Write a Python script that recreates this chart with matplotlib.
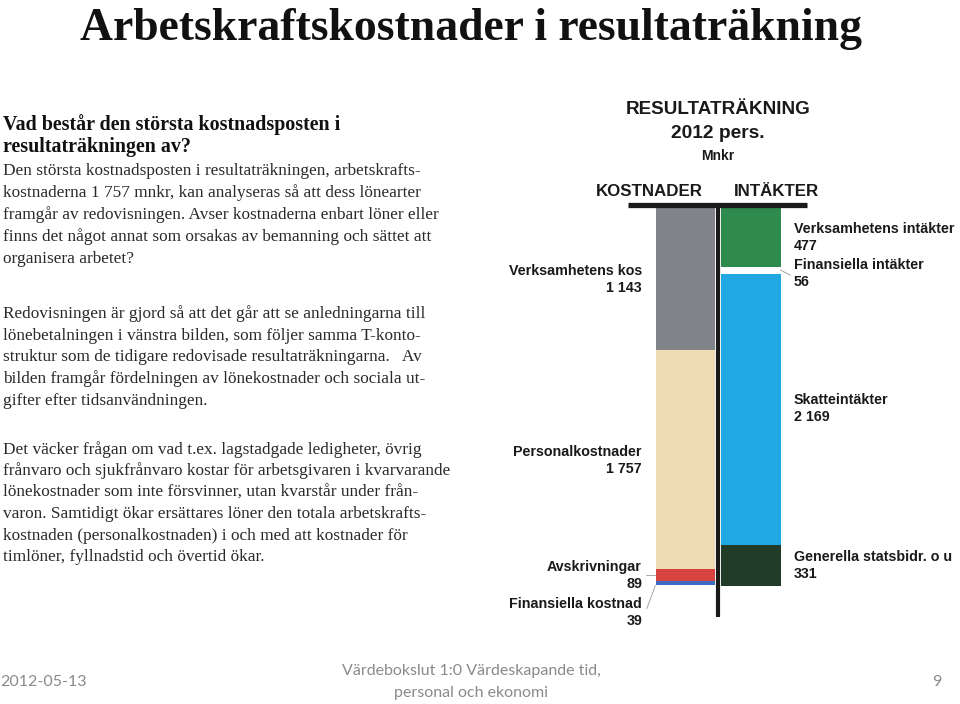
import matplotlib
matplotlib.use("Agg")
import matplotlib.pyplot as plt
import numpy as np

# ---------------- data ----------------
cost_labels = ["Verksamhetens kos", "Personalkostnader", "Avskrivningar", "Finansiella kostnad"]
cost_values = [1143, 1757, 89, 39]
cost_value_text = ["1 143", "1 757", "89", "39"]
income_labels = ["Verksamhetens intäkter", "Finansiella intäkter", "Skatteintäkter", "Generella statsbidr. o u"]
income_values = [477, 56, 2169, 331]
income_value_text = ["477", "56", "2 169", "331"]

cost_colors = ["#808388", "#efdab6", "#d8443f", "#3d6cc3"]
income_colors = ["#2f8a4d", "#ffffff", "#1fa8e1", "#223c2a"]
# label vertical offsets (Mnkr) relative to segment middle
cost_label_dy = [8, 9, 8, 236]
income_label_dy = [2, 30, -3, 2]

title = "Arbetskraftskostnader i resultaträkning"
heading = ["Vad består den största kostnadsposten i", "resultaträkningen av?"]
para1 = ["Den största kostnadsposten i resultaträkningen, arbetskrafts-",
         "kostnaderna 1 757 mnkr, kan analyseras så att dess lönearter",
         "framgår av redovisningen. Avser kostnaderna enbart löner eller",
         "finns det något annat som orsakas av bemanning och sättet att",
         "organisera arbetet?"]
para2 = ["Redovisningen är gjord så att det går att se anledningarna till",
         "lönebetalningen i vänstra bilden, som följer samma T-konto-",
         "struktur som de tidigare redovisade resultaträkningarna.   Av",
         "bilden framgår fördelningen av lönekostnader och sociala ut-",
         "gifter efter tidsanvändningen."]
para3 = ["Det väcker frågan om vad t.ex. lagstadgade ledigheter, övrig",
         "frånvaro och sjukfrånvaro kostar för arbetsgivaren i kvarvarande",
         "lönekostnader som inte försvinner, utan kvarstår under från-",
         "varon. Samtidigt ökar ersättares löner den totala arbetskrafts-",
         "kostnaden (personalkostnaden) i och med att kostnader för",
         "timlöner, fyllnadstid och övertid ökar."]
footer_left = "2012-05-13"
footer_mid = ["Värdebokslut 1:0 Värdeskapande tid,", "personal och ekonomi"]
footer_right = "9"

W, H = 960, 704
fig = plt.figure(figsize=(W / 100, H / 100), dpi=100)
fig.patch.set_facecolor("white")

def fx(x):
    return x / W

def fy(y):
    return 1 - y / H

serif = ["Liberation Serif", "DejaVu Serif"]
sans = ["Liberation Sans", "DejaVu Sans"]
foot = ["Lato", "DejaVu Sans"]

# Title
fig.text(fx(471), fy(40), title, family=serif, fontsize=32.9, fontweight="bold",
         ha="center", va="baseline", color="#111111")

# Left text
x0 = 3
for txt, y in zip(heading, [125, 147]):
    fig.text(fx(x0), fy(y), txt, family=serif, fontsize=14.4, fontweight="bold", ha="left", va="center", color="#111111")
for lines, ys in [(para1, [171, 193, 215, 237, 259]),
                  (para2, [314, 336, 357, 379, 401]),
                  (para3, [450, 471, 493, 514, 536, 557])]:
    for txt, y in zip(lines, ys):
        fig.text(fx(x0), fy(y), txt, family=serif, fontsize=12.4, ha="left", va="center", color="#2a2a2a")

# Footer
fig.text(fx(43), fy(682), footer_left, family=foot, fontsize=11.5, ha="center", va="center", color="#8a8a8a")
fig.text(fx(471), fy(671), footer_mid[0], family=foot, fontsize=11.5, ha="center", va="center", color="#8a8a8a")
fig.text(fx(471), fy(693), footer_mid[1], family=foot, fontsize=11.5, ha="center", va="center", color="#8a8a8a")
fig.text(fx(937), fy(682), footer_right, family=foot, fontsize=11.5, ha="center", va="center", color="#8a8a8a")

# Chart header
fig.text(fx(718), fy(109), "RESULTATRÄKNING", family=sans, fontsize=13.6, fontweight="bold", ha="center", va="center", color="#1a1a1a")
fig.text(fx(718), fy(134), "2012 pers.", family=sans, fontsize=13.8, fontweight="bold", ha="center", va="center", color="#1a1a1a")
fig.text(fx(718), fy(156), "Mnkr", family=sans, fontsize=10, fontweight="bold", ha="center", va="center", color="#1a1a1a")
fig.text(fx(649), fy(191), "KOSTNADER", family=sans, fontsize=12.2, fontweight="bold", ha="center", va="center", color="#1a1a1a")
fig.text(fx(776), fy(191), "INTÄKTER", family=sans, fontsize=12.2, fontweight="bold", ha="center", va="center", color="#1a1a1a")

# T-account axes
ax_left, ax_right, ax_top, ax_bot = 628, 807, 200, 620
ax = fig.add_axes([fx(ax_left), fy(ax_bot), (ax_right - ax_left) / W, (ax_bot - ax_top) / H])
ax.set_axis_off()
px_per_unit_x = 65.5
c0 = 685.5
ax.set_xlim((ax_left - c0) / px_per_unit_x, (ax_right - c0) / px_per_unit_x)
total = max(sum(cost_values), sum(income_values))
px_per_mnkr = 379 / total
ax.set_ylim((ax_bot - 207) / px_per_mnkr, (ax_top - 207) / px_per_mnkr)

bw = 0.91
cost_bottoms = np.concatenate([[0], np.cumsum(cost_values)[:-1]])
inc_bottoms = np.concatenate([[0], np.cumsum(income_values)[:-1]])
ax.bar(np.zeros(len(cost_values)), cost_values, bottom=cost_bottoms, width=bw, color=cost_colors, linewidth=0)
ax.bar(np.ones(len(income_values)), income_values, bottom=inc_bottoms, width=bw, color=income_colors, linewidth=0)

# T lines
xl = ax.get_xlim()
ax.plot(xl, [-20, -20], color="#1a1a1a", linewidth=3.8, solid_capstyle="butt", clip_on=False)
ax.plot([0.5, 0.5], [-20, total + 250], color="#1a1a1a", linewidth=3.0, solid_capstyle="butt", clip_on=False)

# Labels
lx_cost = (642 - c0) / px_per_unit_x
lx_inc = (794 - c0) / px_per_unit_x
for lab, vt, b, v, dy in zip(cost_labels, cost_value_text, cost_bottoms, cost_values, cost_label_dy):
    ax.text(lx_cost, b + v / 2 + dy, f"{lab}\n{vt}", family=sans, fontsize=10.3, fontweight="bold",
            ha="right", va="center", linespacing=1.28, color="#1a1a1a", clip_on=False)
for lab, vt, b, v, dy in zip(income_labels, income_value_text, inc_bottoms, income_values, income_label_dy):
    ax.text(lx_inc, b + v / 2 + dy, f"{lab}\n{vt}", family=sans, fontsize=10.3, fontweight="bold",
            ha="left", va="center", linespacing=1.28, color="#1a1a1a", clip_on=False)

# leader lines
ax.plot([-0.6, -0.46], [cost_bottoms[2] + cost_values[2] / 2, cost_bottoms[2] + cost_values[2] / 2],
        color="#999999", linewidth=0.6, clip_on=False)
ax.plot([-0.46, -0.59], [cost_bottoms[3] + cost_values[3], cost_bottoms[3] + cost_values[3] + 185],
        color="#999999", linewidth=0.6, clip_on=False)
ax.plot([1.45, 1.6], [inc_bottoms[1] + income_values[1] / 2, inc_bottoms[1] + income_values[1] / 2 + 40],
        color="#999999", linewidth=0.6, clip_on=False)

fig.savefig("out.png", dpi=100, facecolor="white")
